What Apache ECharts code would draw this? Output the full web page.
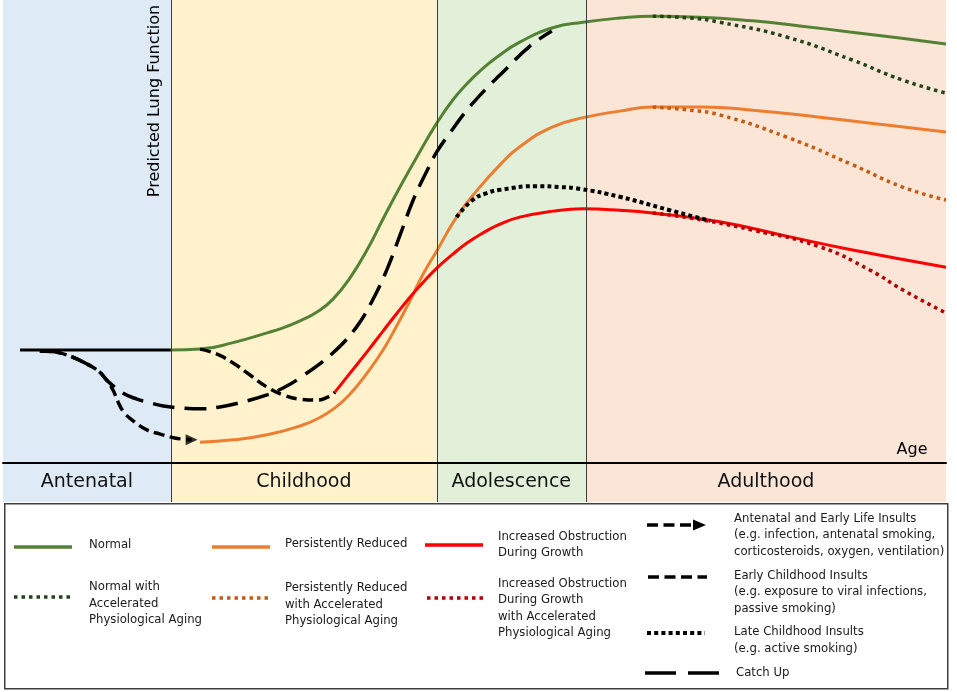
<!DOCTYPE html>
<html>
<head>
<meta charset="utf-8">
<script src="https://cdn.jsdelivr.net/npm/echarts@6.0.0/dist/echarts.min.js"></script>
<style>
html,body{margin:0;padding:0;background:#ffffff;}
#chart{width:957px;height:692px;}
</style>
</head>
<body>
<div id="chart"></div>
<script>
// ---------- DATA (x: position along life course 0-100, y: predicted lung function 0-100) ----------
const phases = ['Antenatal', 'Childhood', 'Adolescence', 'Adulthood'];
const phaseBounds = [0, 17.8, 46.0, 61.8, 100];

const baseline = [[1.8, 24.4], [17.8, 24.4]];

const normal = [[17.8,24.4],[20.9,24.6],[24.4,26.0],[28.0,28.1],[29.7,29.2],[31.5,30.7],[33.3,32.6],[35.0,35.4],
  [36.8,40.0],[38.6,46.0],[40.3,52.7],[42.1,59.6],[44.2,67.2],[46.0,73.4],[47.7,78.4],[49.2,81.9],
  [50.6,84.7],[52.4,87.7],[54.8,90.9],[58.3,94.0],[61.5,95.2],[65.4,96.1],[68.9,96.5],[73.9,96.3],
  [79.5,95.5],[84.5,94.4],[89.8,93.1],[95.1,91.8],[100,90.5]];
const normalAging = [[68.9,96.5],[72.9,96.1],[76.0,95.2],[83.1,92.0],[90.1,87.0],[95.4,82.7],[100,79.9]];

const reduced = [[20.9,4.5],[24.4,5.0],[28.0,6.1],[31.5,8.0],[33.3,9.5],[35.2,11.9],[36.8,14.9],
  [38.6,19.4],[40.3,24.4],[41.8,29.8],[43.2,35.2],[44.5,40.6],[46.0,45.8],[48.1,53.1],[50.4,59.2],
  [52.7,64.4],[54.8,68.3],[58.3,72.6],[61.8,74.7],[65.4,76.0],[68.9,76.9],[74.2,76.9],[79.5,76.2],
  [86.6,74.7],[93.7,73.0],[100,71.5]];
const reducedAging = [[68.9,76.9],[72.9,76.2],[76.0,75.2],[83.1,70.4],[90.1,64.4],[95.4,59.6],[100,56.8]];

const obstruction = [[35.2,15.3],[36.8,19.4],[38.6,24.0],[40.3,28.5],[41.8,32.4],[43.2,35.9],[44.5,38.9],
  [46.0,42.1],[47.7,45.1],[49.2,47.5],[50.9,49.7],[52.7,51.6],[54.8,53.1],[58.3,54.4],[61.5,54.9],
  [65.4,54.6],[68.9,54.0],[76.0,52.1],[83.1,49.0],[90.1,46.0],[100,42.3]];
const obstructionAging = [[68.9,54.0],[72.9,52.9],[79.5,50.3],[86.6,46.7],[91.9,41.7],[95.4,37.4],[100,32.4]];

const antenatalInsult = [[3.9,24.2],[5.5,24.0],[7.1,23.1],[8.7,21.6],[10.1,19.9],[11.0,17.9],[11.7,15.6],
  [12.2,13.2],[12.8,11.0],[13.8,9.1],[15.3,7.1],[16.6,6.3],[18.2,5.4],[20.0,5.0]];
const earlyInsult = [[20.9,24.6],[22.7,23.5],[24.4,21.6],[26.2,19.0],[28.0,16.4],[29.7,14.7],[31.5,13.8],
  [33.3,13.6],[34.5,14.3],[35.2,15.3]];
const lateInsult = [[48.1,53.1],[49.8,56.8],[51.3,58.3],[52.7,59.0],[56.6,59.8],[59.1,59.6],[61.2,59.2],
  [65.4,57.5],[70.7,54.6],[75.0,52.3]];
const catchUp = [[3.9,24.2],[5.5,24.0],[7.1,23.1],[8.7,21.6],[10.1,19.9],[11.0,17.9],[12.7,15.1],[14.2,13.8],
  [15.6,13.0],[17.0,12.3],[18.8,11.9],[20.9,11.7],[23.0,12.1],[25.1,13.0],[28.0,14.7],[29.7,16.2],
  [31.5,18.4],[35.0,23.8],[37.5,29.4],[39.2,35.2],[40.7,41.7],[42.1,49.2],[43.5,56.8],[45.0,63.3],
  [46.0,67.2],[47.4,71.3],[49.2,76.2],[51.3,81.0],[52.7,83.8],[55.9,90.1],[58.2,93.3]];

const legendLabels = [
  ['Normal'],
  ['Normal with', 'Accelerated', 'Physiological Aging'],
  ['Persistently Reduced'],
  ['Persistently Reduced', 'with Accelerated', 'Physiological Aging'],
  ['Increased Obstruction', 'During Growth'],
  ['Increased Obstruction', 'During Growth', 'with Accelerated', 'Physiological Aging'],
  ['Antenatal and Early Life Insults', '(e.g. infection, antenatal smoking,', 'corticosteroids, oxygen, ventilation)'],
  ['Early Childhood Insults', '(e.g. exposure to viral infections,', 'passive smoking)'],
  ['Late Childhood Insults', '(e.g. active smoking)'],
  ['Catch Up']
];

// ---------- STYLES ----------
const FONT = '"DejaVu Sans", Verdana, sans-serif';
const phaseColors = ['#DEEBF7', '#FFF2CC', '#E2F0D9', '#FBE5D6'];
const C = {
  green: '#548235', greenDot: '#24421A',
  orange: '#ED7D31', orangeDot: '#C55A11',
  red: '#FF0000', redDot: '#B00000',
  black: '#000000'
};
const DOT = [3.5, 4];
const DOT_BLACK = [4, 3.2];
const DASH = [11, 5.5];
const LONG = [22, 10];

const yMin = -8.42;

// ---------- SERIES ----------
function lineSeries(name, data, color, width, dash, z, extra) {
  return Object.assign({
    name: name, type: 'line', data: data, smooth: 0.5,
    symbol: 'none', showSymbol: false, silent: true, z: z,
    lineStyle: { color: color, width: width, type: dash, cap: 'butt' }
  }, extra || {});
}

const markAreaData = [];
for (let i = 0; i < phases.length; i++) {
  markAreaData.push([
    { coord: [phaseBounds[i], 0], itemStyle: { color: phaseColors[i] } },
    { coord: [phaseBounds[i + 1], 100] }
  ]);
  markAreaData.push([
    { name: phases[i], coord: [phaseBounds[i], yMin], itemStyle: { color: phaseColors[i] } },
    { coord: [phaseBounds[i + 1], 0] }
  ]);
}
const markLineData = phaseBounds.slice(1, phaseBounds.length - 1).map(b => [
  { coord: [b, yMin] }, { coord: [b, 100] }
]);

const hostSeries = {
  name: 'phases', type: 'line', data: [], z: 1, silent: true,
  markArea: {
    silent: true,
    label: {
      show: true, position: 'inside', color: '#111', fontFamily: FONT, fontSize: 19,
      formatter: p => (phases.indexOf(p.name) >= 0 ? p.name : '')
    },
    data: markAreaData
  },
  markLine: {
    silent: true, symbol: 'none', label: { show: false },
    lineStyle: { color: '#3c3c3c', width: 1, type: 'solid' },
    emphasis: { disabled: true },
    data: markLineData
  }
};

const arrowHead = {
  name: 'arrowhead', type: 'scatter', silent: true, z: 6,
  data: [antenatalInsult[antenatalInsult.length - 1]],
  symbol: 'triangle', symbolSize: [11, 12], symbolRotate: -90,
  itemStyle: { color: C.black }
};

const series = [
  hostSeries,
  lineSeries('Normal', normal, C.green, 3, 'solid', 3),
  lineSeries('Persistently Reduced', reduced, C.orange, 3, 'solid', 3),
  lineSeries('Increased Obstruction', obstruction, C.red, 3, 'solid', 3),
  lineSeries('Normal Aging', normalAging, C.greenDot, 3.5, DOT, 4),
  lineSeries('Reduced Aging', reducedAging, C.orangeDot, 3.5, DOT, 4),
  lineSeries('Obstruction Aging', obstructionAging, C.redDot, 3.5, DOT, 4),
  lineSeries('Baseline', baseline, C.black, 3, 'solid', 5, { smooth: false }),
  lineSeries('Antenatal Insults', antenatalInsult, C.black, 3.5, DASH, 5, { smooth: 0.4 }),
  lineSeries('Early Childhood Insults', earlyInsult, C.black, 3.5, DASH, 5),
  lineSeries('Late Childhood Insults', lateInsult, C.black, 4, DOT_BLACK, 5),
  lineSeries('Catch Up', catchUp, C.black, 3.5, LONG, 5, { smooth: 0.4 }),
  arrowHead
];

// ---------- LEGEND (graphic) ----------
const legendLayout = [
  { x1: 14,  x2: 72,  y: 547, tx: 89,  ty: 545,   color: C.green,     w: 3.5, dash: null },
  { x1: 14,  x2: 73,  y: 597, tx: 89,  ty: 603.5, color: C.greenDot,  w: 3.5, dash: DOT },
  { x1: 212, x2: 270, y: 547, tx: 285, ty: 544,   color: C.orange,    w: 3.5, dash: null },
  { x1: 212, x2: 271, y: 598, tx: 285, ty: 604.5, color: C.orangeDot, w: 3.5, dash: DOT },
  { x1: 425, x2: 483, y: 545, tx: 498, ty: 545,   color: C.red,       w: 3.5, dash: null },
  { x1: 427, x2: 484, y: 598, tx: 498, ty: 608.5, color: C.redDot,    w: 3.5, dash: DOT },
  { x1: 647, x2: 691, y: 525, tx: 734, ty: 535,   color: C.black,     w: 3.5, dash: DASH, arrow: true },
  { x1: 648, x2: 707, y: 577, tx: 734, ty: 592,   color: C.black,     w: 3.5, dash: DASH },
  { x1: 647, x2: 705, y: 633, tx: 734, ty: 640.5, color: C.black,     w: 4,   dash: DOT_BLACK },
  { x1: 645, x2: 719, y: 673, tx: 736, ty: 673,   color: C.black,     w: 3.5, dash: [31, 12] }
];

const graphics = [
  { type: 'rect', left: 4, top: 503, shape: { x: 0, y: 0, width: 943, height: 185 },
    style: { fill: '#ffffff', stroke: '#3f3f3f', lineWidth: 1.5 }, z: 10 },
  { type: 'text', x: 155, y: 101, rotation: Math.PI / 2, z: 10,
    style: { text: 'Predicted Lung Function', font: '16px ' + FONT, fill: '#000',
      align: 'center', verticalAlign: 'middle' } },
  { type: 'text', x: 912, y: 450, z: 10,
    style: { text: 'Age', font: '16px ' + FONT, fill: '#000', align: 'center', verticalAlign: 'middle' } }
];
legendLayout.forEach((L, i) => {
  graphics.push({ type: 'line', z: 11, shape: { x1: L.x1, y1: L.y, x2: L.x2, y2: L.y },
    style: { stroke: L.color, lineWidth: L.w, lineDash: L.dash || null, lineCap: 'butt' } });
  if (L.arrow) {
    graphics.push({ type: 'polygon', z: 11,
      shape: { points: [[L.x2 + 2, L.y - 5.5], [L.x2 + 15, L.y], [L.x2 + 2, L.y + 5.5]] },
      style: { fill: L.color } });
  }
  graphics.push({ type: 'text', x: L.tx, y: L.ty, z: 11,
    style: { text: legendLabels[i].join('\n'), font: '11.7px ' + FONT, fill: '#1a1a1a',
      lineHeight: 16.5, align: 'left', verticalAlign: 'middle' } });
});

const chart = echarts.init(document.getElementById('chart'), null, { renderer: 'canvas' });
chart.setOption({
  animation: false,
  backgroundColor: '#ffffff',
  grid: { left: 3, right: 11, top: 0, bottom: 190, containLabel: false },
  xAxis: {
    type: 'value', min: 0, max: 100, z: 8,
    axisLine: { show: true, onZero: true, lineStyle: { color: '#000', width: 2 } },
    axisTick: { show: false }, axisLabel: { show: false }, splitLine: { show: false }
  },
  yAxis: {
    type: 'value', min: yMin, max: 100, show: false,
    axisLine: { show: false }, axisTick: { show: false }, axisLabel: { show: false }, splitLine: { show: false }
  },
  series: series,
  graphic: graphics
});
</script>
</body>
</html>
